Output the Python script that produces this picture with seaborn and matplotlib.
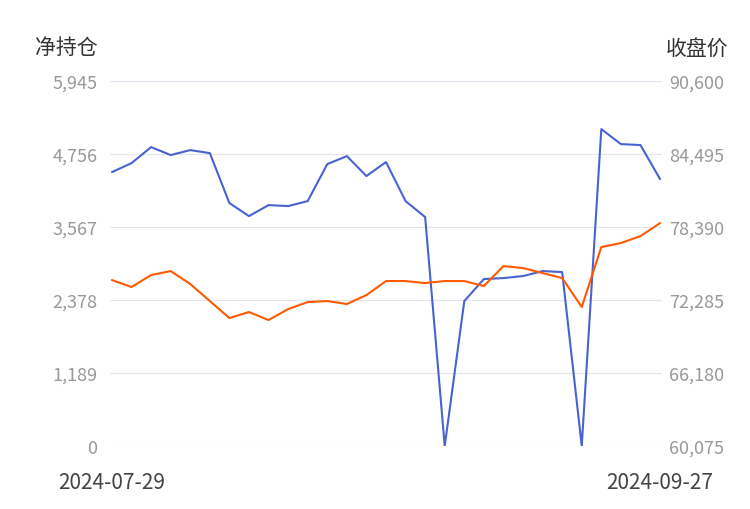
import matplotlib
matplotlib.use("Agg")
import matplotlib.pyplot as plt
import seaborn as sns
import numpy as np

sns.set_theme(style="white")
plt.rcParams['font.family'] = ['Noto Sans CJK SC', 'DejaVu Sans']

net_pos = [4463, 4609, 4870, 4740, 4821, 4772, 3958, 3746, 3925, 3909, 3990, 4593, 4723, 4398,
           4626, 3990, 3730, 0, 2362, 2720, 2736, 2769, 2850, 2834, 0, 5163, 4919, 4903, 4349]
close = [73958, 73372, 74376, 74711, 73623, 72202, 70780, 71282, 70612, 71532, 72117, 72202, 71951,
         72704, 73874, 73874, 73707, 73874, 73874, 73456, 75129, 74961, 74543, 74125, 71700, 76717,
         77052, 77637, 78725]
left_ticks = [0, 1189, 2378, 3567, 4756, 5945]
right_ticks = [60075, 66180, 72285, 78390, 84495, 90600]
date_labels = ["2024-07-29", "2024-09-27"]

x = np.arange(len(net_pos))
fig = plt.figure(figsize=(7.5, 5.1), dpi=100)
ax = fig.add_axes([110/750, 0.1235, 552/750, 0.7155])
ax2 = ax.twinx()

sns.lineplot(x=x, y=net_pos, ax=ax, color="#4a62cf", linewidth=1.5)
sns.lineplot(x=x, y=close, ax=ax2, color="#ff5a00", linewidth=1.5)

ax.set_ylim(0, 5945)
ax2.set_ylim(60075, 90600)
ax.set_xlim(-0.1, len(x) - 1 + 0.1)
ax.set_yticks(left_ticks)
ax.set_yticklabels([f"{v:,}" for v in left_ticks])
ax2.set_yticks(right_ticks)
ax2.set_yticklabels([f"{v:,}" for v in right_ticks])
ax.set_xticks([0, len(x) - 1])
ax.set_xticklabels(date_labels)
ax.grid(axis='y', color="#e0e6f0", linewidth=0.8)
ax2.grid(False)
for a in (ax, ax2):
    for s in a.spines.values():
        s.set_visible(False)
    a.tick_params(length=0)
ax.tick_params(axis='y', labelsize=13, labelcolor="#999999", pad=9)
ax2.tick_params(axis='y', labelsize=13, labelcolor="#999999", pad=5)
ax.tick_params(axis='x', labelsize=15, labelcolor="#444444", pad=18)
ax.get_xticklabels()[0].set_ha("center")

fig.text(0.047, 0.905, "净持仓", fontsize=15, color="#333333", va="center")
fig.text(0.888, 0.905, "收盘价", fontsize=15, color="#333333", va="center")

fig.savefig("out.png", dpi=100)
